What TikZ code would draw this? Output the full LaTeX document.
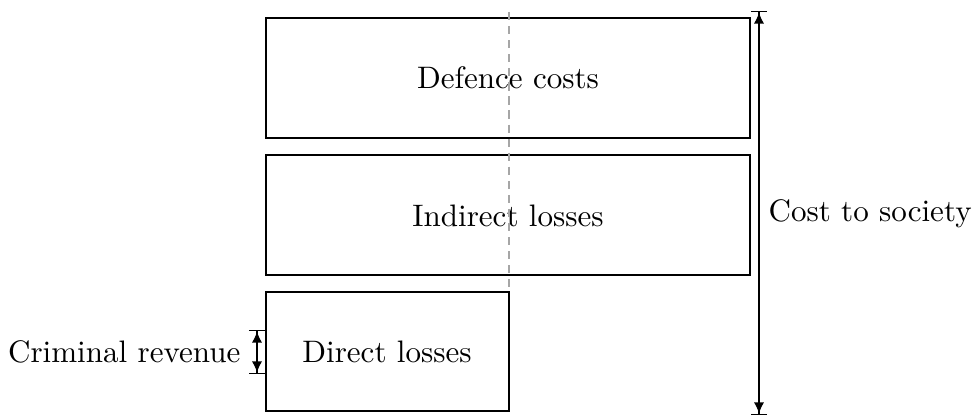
\documentclass[tikz,border=0pt]{standalone}
\usetikzlibrary{arrows.meta}
\begin{document}
\begin{tikzpicture}[x=0.012cm,y=-0.012cm,
  costbox/.style={draw,line width=0.5pt},
  label/.style={inner sep=0pt,font=\fontsize{10.6}{12.7}\selectfont},
  span/.style={line width=0.5pt,{Bar[width=5.5pt]Latex[length=3.8pt,width=3.5pt]}-{Latex[length=3.8pt,width=3.5pt]Bar[width=5.5pt]}},
  guide/.style={gray!70,line width=0.6pt,dash pattern=on 2.8pt off 2pt}]
\useasboundingbox (0,0) rectangle (978,415);
% stacked cost components
\draw[costbox] (266,18) rectangle (750,138);
\draw[costbox] (266,155) rectangle (750,275);
\draw[costbox] (266,292) rectangle (509,411);
\node[label] (defence) at (508,78) {Defence costs};
\node[label] (indirect) at (508,216) {Indirect losses};
\node[label] (direct) at (387,352) {Direct losses};
% divider between direct and other losses
\coordinate (gtop) at (509,12);
\coordinate (gbot) at (509,292);
\draw[guide] (gtop) -- (gbot);
% total extent
\coordinate (ctop) at (759,11);
\coordinate (cbot) at (759,415);
\draw[span] (cbot) -- (ctop);
\node[label,anchor=west] (society) at (768,214) {Cost to society};
% criminal revenue
\coordinate (rtop) at (257,330);
\coordinate (rbot) at (257,374);
\draw[span] (rbot) -- (rtop);
\node[label,anchor=east] (revenue) at (241,352) {Criminal revenue};
\end{tikzpicture}
\end{document}
